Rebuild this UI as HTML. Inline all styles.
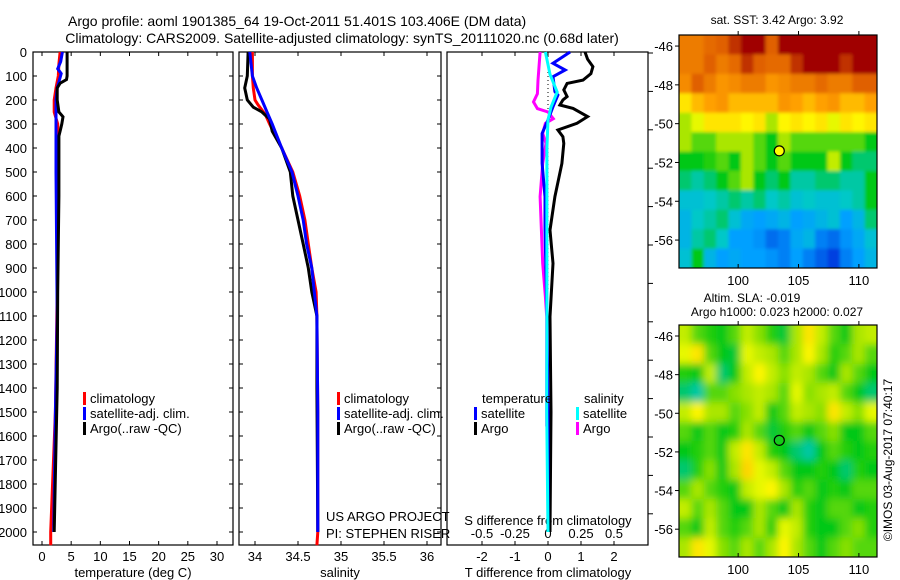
<!DOCTYPE html>
<html><head><meta charset="utf-8"><style>
body{margin:0;background:#fff}
svg{display:block;font-family:"Liberation Sans",sans-serif}
</style></head><body>
<svg id="fig" width="900" height="580" viewBox="0 0 900 580">
<defs>
<filter id="blurS" x="-5%" y="-5%" width="110%" height="110%"><feGaussianBlur stdDeviation="1.5"/></filter>
<filter id="blurL" x="-5%" y="-5%" width="110%" height="110%"><feGaussianBlur stdDeviation="4"/></filter>
<clipPath id="clipS"><rect x="679" y="35" width="198" height="233"/></clipPath>
<clipPath id="clipL"><rect x="679" y="325" width="198" height="232"/></clipPath>
</defs>
<rect width="900" height="580" fill="#fff"/>
<text x="68" y="26" font-size="14" text-anchor="start">Argo profile: aoml 1901385_64 19-Oct-2011 51.401S 103.406E (DM data)</text>
<text x="342" y="43" font-size="14" text-anchor="middle">Climatology: CARS2009. Satellite-adjusted climatology: synTS_20111020.nc (0.68d later)</text>
<g id="g"></g>
</svg>
<script>
// ---- data ----
const depthTicks=[0,100,200,300,400,500,600,700,800,900,1000,1100,1200,1300,1400,1500,1600,1700,1800,1900,2000];
const tempTicks=[0,5,10,15,20,25,30];
const salTicks=[34,34.5,35,35.5,36];
const tdTicks=[-2,-1,0,1,2];
const sdTicks=[-0.5,-0.25,0,0.25,0.5];
const lonTicks=[100,105,110];
const latTicks=[-46,-48,-50,-52,-54,-56];

const tClimDepth=[0,50,100,150,200,250,300,400,500,1000,1500,2000,2055];
const tClimVal=[3.1,2.9,2.8,2.4,2.1,2.1,2.7,2.8,2.8,2.6,2.3,1.5,1.5];
const tSatDepth=[0,40,70,90,150,200,500,1100,1500,2000];
const tSatVal=[3.5,3.2,2.7,3.3,2.6,2.4,2.4,2.6,2.3,2.0];
const tArgoDepth=[0,100,115,130,150,200,250,270,300,330,350,500,600,1000,1400,2000];
const tArgoVal=[4.3,4.3,4.2,3.1,2.6,2.6,2.9,3.6,3.4,3.1,2.9,2.9,2.9,2.7,2.6,2.1];

const sClimDepth=[0,100,150,200,220,260,300,400,500,600,700,800,900,1000,1100,1500,2000,2055];
const sClimVal=[33.97,33.97,33.98,34.0,34.035,34.12,34.17,34.31,34.44,34.52,34.58,34.62,34.66,34.71,34.72,34.73,34.73,34.72];
const sSatDepth=[0,100,150,200,250,300,400,500,600,700,800,900,1000,1100,1500,2000];
const sSatVal=[33.94,33.97,34.02,34.08,34.14,34.2,34.31,34.43,34.5,34.56,34.6,34.66,34.69,34.72,34.73,34.73];
const sArgoDepth=[0,100,150,200,230,250,280,330,400,500,600,700,800,900,1000,1100,1400,2000];
const sArgoVal=[33.92,33.91,33.88,33.91,33.98,34.08,34.17,34.2,34.31,34.41,34.44,34.5,34.56,34.62,34.66,34.72,34.72,34.73];

const dTSatDepth=[0,20,47,75,103,165,179,228,283,339,464,603,742,1103,1500,2000];
const dTSatVal=[0.67,0.45,0.15,0.52,0.15,0.21,0.3,0.15,0.0,-0.18,-0.18,-0.09,-0.09,-0.03,0.0,0.0];
const dTArgoDepth=[0,30,61,90,117,131,158,186,200,221,235,269,297,325,353,381,464,603,742,881,1103,1500,2000];
const dTArgoVal=[1.12,1.2,1.36,1.3,1.06,0.58,0.48,0.58,0.45,0.36,0.76,1.2,0.88,0.3,0.45,0.48,0.42,0.21,0.06,0.15,0.06,0.09,0.06];
const dSSatDepth=[0,93,167,230,283,400,1100,1500,2000];
const dSSatVal=[-0.02,0.015,0.07,0.023,0.0,-0.008,-0.008,-0.01,0.0];
const dSArgoDepth=[0,118,174,208,236,250,278,297,339,381,464,603,742,881,1020,1103,1560];
const dSArgoVal=[-0.06,-0.076,-0.08,-0.11,-0.08,0.0,0.04,-0.02,-0.04,-0.015,-0.04,-0.06,-0.05,-0.04,-0.02,-0.01,-0.01];

const sstGrid=[
[0.85,0.85,0.88,0.9,0.95,1,1,0.9,1,1,1,1,1,1,1,1],
[0.85,0.85,0.9,0.85,0.88,0.95,0.9,0.88,0.88,0.95,1,1,1,0.95,1,1],
[0.82,0.9,0.85,0.8,0.82,0.85,0.85,0.8,0.82,0.85,0.85,0.88,0.85,0.85,0.9,0.9],
[0.7,0.75,0.78,0.8,0.75,0.75,0.75,0.75,0.8,0.78,0.75,0.78,0.8,0.75,0.75,0.78],
[0.6,0.65,0.7,0.7,0.7,0.68,0.7,0.6,0.68,0.7,0.68,0.7,0.65,0.7,0.68,0.7],
[0.6,0.55,0.55,0.6,0.6,0.6,0.55,0.5,0.6,0.55,0.55,0.55,0.55,0.55,0.55,0.5],
[0.5,0.5,0.52,0.55,0.5,0.6,0.55,0.5,0.55,0.5,0.5,0.5,0.62,0.5,0.45,0.45],
[0.45,0.42,0.45,0.5,0.55,0.6,0.5,0.45,0.5,0.42,0.42,0.45,0.45,0.42,0.42,0.5],
[0.38,0.38,0.4,0.42,0.45,0.42,0.45,0.4,0.42,0.38,0.4,0.38,0.38,0.4,0.42,0.5],
[0.35,0.4,0.42,0.45,0.38,0.32,0.3,0.32,0.35,0.3,0.32,0.35,0.38,0.3,0.35,0.45],
[0.35,0.42,0.45,0.4,0.3,0.3,0.28,0.22,0.25,0.32,0.35,0.25,0.22,0.28,0.32,0.38],
[0.38,0.5,0.35,0.3,0.32,0.3,0.3,0.28,0.25,0.3,0.25,0.2,0.15,0.25,0.3,0.35]];
const slaGrid=[
[0.62,0.55,0.52,0.5,0.55,0.62,0.58,0.52,0.48,0.6,0.7,0.62,0.55,0.5,0.6,0.62],
[0.65,0.7,0.55,0.5,0.48,0.65,0.62,0.6,0.55,0.6,0.68,0.6,0.52,0.55,0.6,0.55],
[0.52,0.5,0.62,0.45,0.5,0.62,0.68,0.62,0.58,0.62,0.6,0.55,0.5,0.6,0.55,0.5],
[0.45,0.42,0.55,0.55,0.58,0.6,0.62,0.6,0.55,0.65,0.58,0.6,0.62,0.55,0.5,0.45],
[0.62,0.68,0.6,0.6,0.55,0.58,0.62,0.5,0.55,0.62,0.6,0.58,0.7,0.62,0.58,0.65],
[0.55,0.5,0.55,0.5,0.52,0.6,0.55,0.48,0.52,0.55,0.5,0.55,0.58,0.5,0.5,0.55],
[0.5,0.52,0.55,0.5,0.62,0.7,0.62,0.52,0.5,0.45,0.42,0.5,0.55,0.52,0.5,0.52],
[0.45,0.52,0.58,0.5,0.6,0.72,0.65,0.62,0.55,0.5,0.5,0.52,0.5,0.45,0.52,0.5],
[0.55,0.6,0.55,0.52,0.5,0.62,0.65,0.68,0.6,0.52,0.55,0.5,0.52,0.5,0.55,0.55],
[0.62,0.55,0.6,0.55,0.5,0.5,0.6,0.55,0.5,0.6,0.52,0.5,0.55,0.55,0.5,0.52],
[0.55,0.5,0.62,0.55,0.52,0.55,0.6,0.52,0.65,0.62,0.52,0.5,0.5,0.55,0.58,0.52],
[0.6,0.7,0.65,0.58,0.55,0.6,0.55,0.6,0.68,0.6,0.55,0.5,0.55,0.58,0.55,0.55]];
const argoLon=103.406, argoLat=-51.401;

// ---- helpers ----
const NS="http://www.w3.org/2000/svg";
const G=document.getElementById('g');
function mk(tag,attrs,parent){const e=document.createElementNS(NS,tag);for(const k in attrs)e.setAttribute(k,attrs[k]);(parent||G).appendChild(e);return e;}
function txt(s,x,y,size,anchor,name){const e=mk('text',{x:x,y:y,'font-size':size,'text-anchor':anchor||'middle'});e.textContent=s;


return e;}
const TOP=52,BOT=545;
const yD=d=>TOP+d*0.24;
const xT=v=>42+v*5.833;
const xS=v=>255+(v-34)*86;
const xDT=v=>548+v*33;
const xDS=v=>548+v*132;

function frame(x0,x1,name){const r=mk('rect',{x:x0,y:TOP,width:x1-x0,height:BOT-TOP,fill:'none',stroke:'#000','stroke-width':1.2});

}
function line(depths,vals,fx,color,name,w){
 const pts=depths.map((d,i)=>fx(vals[i]).toFixed(1)+','+yD(d).toFixed(1)).join(' ');
 const p=mk('polyline',{points:pts,fill:'none',stroke:color,'stroke-width':w||3,'stroke-linejoin':'miter'});
 
 }

frame(33,233,'temperature-panel');frame(239,441,'salinity-panel');frame(447,648,'difference-panel');
depthTicks.forEach(d=>{const y=yD(d);
 txt(String(d),27,y+5,13,'end','depth-tick-label');
 [[33,37],[229,233],[239,243],[437,441]].forEach(s=>mk('line',{x1:s[0],x2:s[1],y1:y,y2:y,stroke:'#000'}));});
for(let y=53;y<545;y+=38.4)mk('line',{x1:648,x2:653,y1:y,y2:y,stroke:'#000'});
tempTicks.forEach(v=>{const x=xT(v);mk('line',{x1:x,x2:x,y1:BOT,y2:BOT-4,stroke:'#000'});mk('line',{x1:x,x2:x,y1:TOP,y2:TOP+4,stroke:'#000'});txt(String(v),x,561,13,'middle','temperature-tick-label');});
salTicks.forEach(v=>{const x=xS(v);mk('line',{x1:x,x2:x,y1:BOT,y2:BOT-4,stroke:'#000'});mk('line',{x1:x,x2:x,y1:TOP,y2:TOP+4,stroke:'#000'});txt(String(v),x,561,13,'middle','salinity-tick-label');});
tdTicks.forEach(v=>{const x=xDT(v);mk('line',{x1:x,x2:x,y1:BOT,y2:BOT-4,stroke:'#000'});mk('line',{x1:x,x2:x,y1:TOP,y2:TOP+4,stroke:'#000'});txt(String(v),x,561,13,'middle','t-diff-tick-label');});
sdTicks.forEach(v=>{const x=xDS(v);txt(String(v),x,538,13,'middle','s-diff-tick-label');});
txt('temperature (deg C)',133,577,13,'middle','temperature-axis-title');
txt('salinity',340,577,13,'middle','salinity-axis-title');
txt('T difference from climatology',548,577,13,'middle','t-diff-axis-title');
txt('S difference from climatology',548,525,13,'middle','s-diff-axis-title');
mk('line',{x1:548,x2:548,y1:TOP,y2:yD(1000),stroke:'#000','stroke-dasharray':'1,3'});

line(tClimDepth,tClimVal,xT,'#f00','temp-climatology-line');
line(tSatDepth,tSatVal,xT,'#00f','temp-satellite-line');
line(tArgoDepth,tArgoVal,xT,'#000','temp-argo-line');
line(sClimDepth,sClimVal,xS,'#f00','sal-climatology-line');
line(sArgoDepth,sArgoVal,xS,'#000','sal-argo-line');
line(sSatDepth,sSatVal,xS,'#00f','sal-satellite-line');
line(dTArgoDepth,dTArgoVal,xDT,'#000','t-diff-argo-line');
line(dSArgoDepth,dSArgoVal,xDS,'#f0f','s-diff-argo-line');
line(dTSatDepth,dTSatVal,xDT,'#00f','t-diff-satellite-line');
line(dSSatDepth,dSSatVal,xDS,'#0ff','s-diff-satellite-line');

function leg(x,y,color,label,name){const r=mk('rect',{x:x,y:y-11,width:3,height:13,fill:color});
 
 
 txt(label,x+7,y,13,'start',name);}
leg(83,403,'#f00','climatology','legend-climatology');
leg(83,418,'#00f','satellite-adj. clim.','legend-satellite-adj');
leg(83,433,'#000','Argo(..raw -QC)','legend-argo');
leg(337,403,'#f00','climatology','legend-sal-climatology');
leg(337,418,'#00f','satellite-adj. clim.','legend-sal-satellite-adj');
leg(337,433,'#000','Argo(..raw -QC)','legend-sal-argo');
txt('temperature',482,403,13,'start','legend-temperature-heading');
txt('salinity',584,403,13,'start','legend-salinity-heading');
leg(474,418,'#00f','satellite','legend-t-satellite');
leg(474,433,'#000','Argo','legend-t-argo');
leg(576,418,'#0ff','satellite','legend-s-satellite');
leg(576,433,'#f0f','Argo','legend-s-argo');
txt('US ARGO PROJECT',326,521,13,'start','project-label');
txt('PI: STEPHEN RISER',326,538,13,'start','pi-label');

const stops=[[0,[0,16,160]],[0.15,[0,64,224]],[0.3,[0,160,255]],[0.4,[0,200,200]],[0.5,[0,200,20]],[0.6,[170,230,0]],[0.67,[255,255,0]],[0.78,[255,160,0]],[0.9,[224,96,0]],[1,[160,0,0]]];
function cmap(v){for(let i=1;i<stops.length;i++){if(v<=stops[i][0]){const a=stops[i-1],b=stops[i],t=(v-a[0])/(b[0]-a[0]);return 'rgb('+a[1].map((c,k)=>Math.round(c+(b[1][k]-c)*t)).join(',')+')';}}return 'rgb(160,0,0)';}
const LON0=95.1,LON1=111.5,LAT0=-45.43,LAT1=-57.44;
function drawMap(top,bot,grid,name,fillMarker,filt,clip){
 const x0=679,x1=877;
 const xL=lon=>x0+(lon-LON0)/(LON1-LON0)*(x1-x0);
 const yL=lat=>top+(lat-LAT0)/(LAT1-LAT0)*(bot-top);
 const outer=mk('g',{'clip-path':'url(#'+clip+')'});
 const g=mk('g',{filter:'url(#'+filt+')'},outer);
 
 
 const nr=grid.length,nc=grid[0].length;
 const w=(x1-x0)/nc,h=(bot-top)/nr;
 grid.forEach((row,i)=>row.forEach((v,j)=>{
  const lo=LON0+(LON1-LON0)*j/nc,la=LAT0+(LAT1-LAT0)*i/nr;
  let xa=xL(lo),ya=yL(la),ww=w+0.6,hh=h+0.6;
  if(j===0){xa-=8;ww+=8;} if(j===nc-1)ww+=8;
  if(i===0){ya-=8;hh+=8;} if(i===nr-1)hh+=8;
  const c=mk('rect',{x:xa.toFixed(1),y:ya.toFixed(1),width:ww.toFixed(1),height:hh.toFixed(1),fill:cmap(v)},g);
  
  
 }));
 mk('rect',{x:x0,y:top,width:x1-x0,height:bot-top,fill:'none',stroke:'#000','stroke-width':1.2});
 lonTicks.forEach(l=>{const x=xL(l);mk('line',{x1:x,x2:x,y1:bot,y2:bot-4,stroke:'#000'});mk('line',{x1:x,x2:x,y1:top,y2:top-4,stroke:'#000'});txt(String(l),x,bot+17,13,'middle','map-lon-tick-label');});
 latTicks.forEach(l=>{const y=yL(l);mk('line',{x1:x0,x2:x0-4,y1:y,y2:y,stroke:'#000'});txt(String(l),x0-6,y+5,13,'end','map-lat-tick-label');});
 const m=mk('circle',{cx:xL(argoLon),cy:yL(argoLat),r:5,fill:fillMarker,stroke:'#000','stroke-width':1.2});
 
 
}
drawMap(35,268,sstGrid,'sst-map','#ff0','blurS','clipS');
drawMap(325,557,slaGrid,'sla-map','none','blurL','clipL');
txt('sat. SST: 3.42  Argo: 3.92',777,24,12,'middle','sst-map-title');
txt('Altim. SLA: -0.019',752,302,12,'middle','sla-map-title-1');
txt('Argo h1000: 0.023 h2000: 0.027',777,316,12,'middle','sla-map-title-2');
const cr=txt('©IMOS 03-Aug-2017 07:40:17',0,0,12,'middle','imos-credit');
cr.setAttribute('transform','translate(892,460) rotate(-90)');
</script>
</body></html>
